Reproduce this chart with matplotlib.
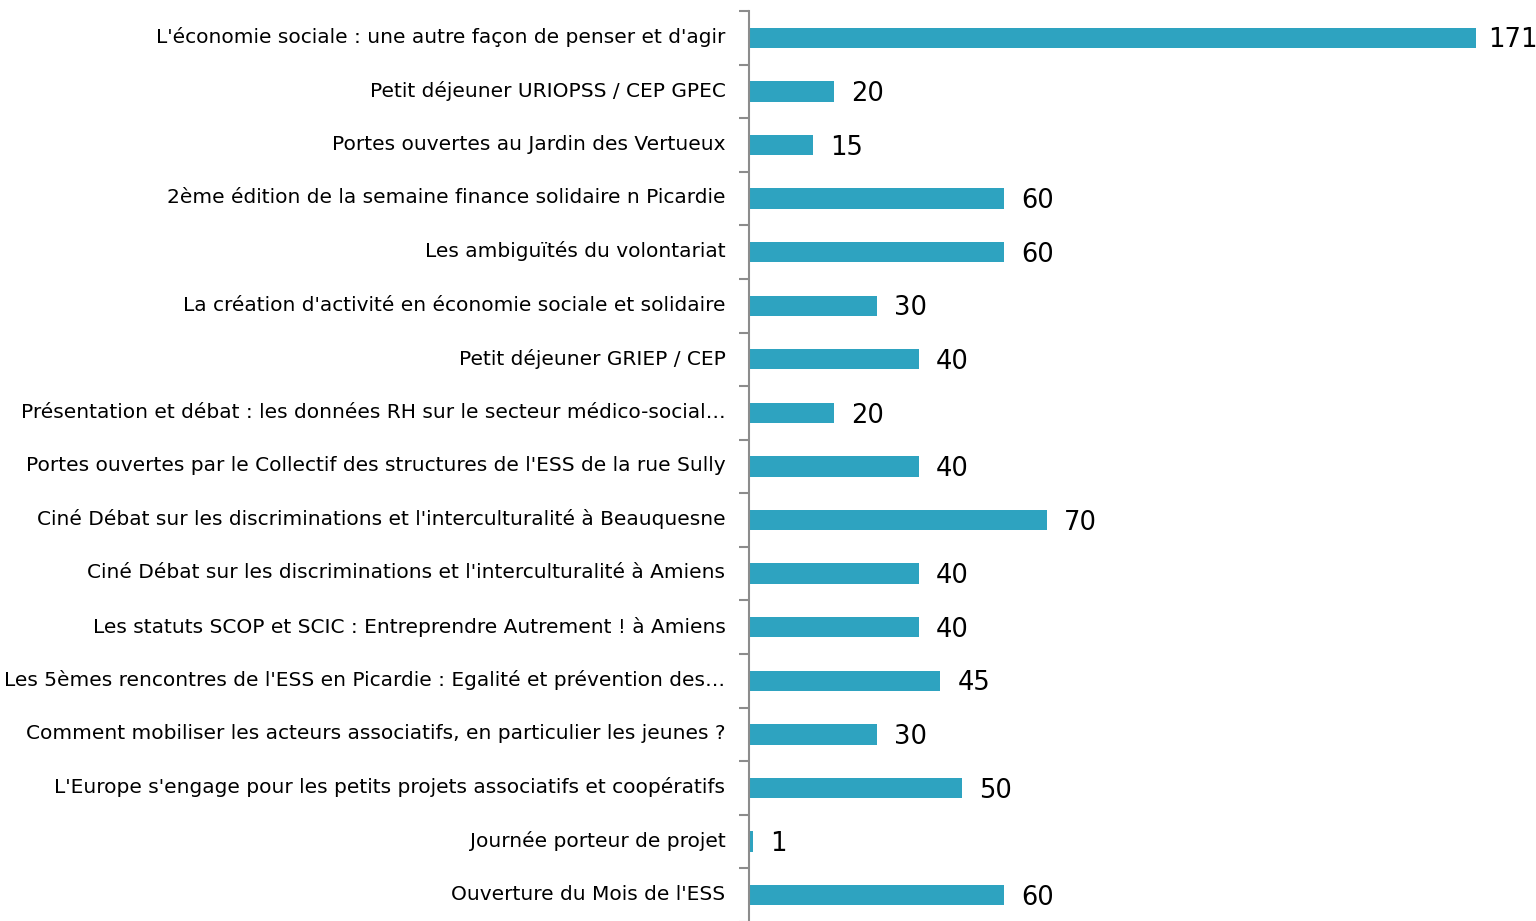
import matplotlib.pyplot as plt
import numpy as np

events = [
    "L'économie sociale : une autre façon de penser et d'agir",
    "Petit déjeuner URIOPSS / CEP GPEC",
    "Portes ouvertes au Jardin des Vertueux",
    "2ème édition de la semaine finance solidaire n Picardie",
    "Les ambiguïtés du volontariat",
    "La création d'activité en économie sociale et solidaire",
    "Petit déjeuner GRIEP / CEP",
    "Présentation et débat : les données RH sur le secteur médico-social\u2026",
    "Portes ouvertes par le Collectif des structures de l'ESS de la rue Sully",
    "Ciné Débat sur les discriminations et l'interculturalité à Beauquesne",
    "Ciné Débat sur les discriminations et l'interculturalité à Amiens",
    "Les statuts SCOP et SCIC : Entreprendre Autrement ! à Amiens",
    "Les 5èmes rencontres de l'ESS en Picardie : Egalité et prévention des\u2026",
    "Comment mobiliser les acteurs associatifs, en particulier les jeunes ?",
    "L'Europe s'engage pour les petits projets associatifs et coopératifs",
    "Journée porteur de projet",
    "Ouverture du Mois de l'ESS",
]
participants = [171, 20, 15, 60, 60, 30, 40, 20, 40, 70, 40, 40, 45, 30, 50, 1, 60]

bar_color = "#2EA3C0"

fig = plt.figure(figsize=(15.36, 9.21), dpi=100)
ax = fig.add_axes([749 / 1536, -0.001, 1 - 749 / 1536, 1 - 11 / 921 + 0.001])

pos = np.arange(len(events))
ax.barh(pos, participants, height=0.38, color=bar_color)

xmax = 185
for y, v in zip(pos, participants):
    # keep the longest label inside the figure
    ax.text(min(v + 4, xmax - 11.3), y + 0.05, str(v), va="center", ha="left",
            fontsize=18.5, color="black")

ax.set_ylim(len(events) - 0.5, -0.5)
ax.set_xlim(0, xmax)

# ticks between categories, labels at centers
ax.set_yticks(np.arange(len(events) + 1) - 0.5)
ax.set_yticklabels([])
ax.tick_params(axis="y", which="major", length=7, width=1.5, color="#8c8c8c")
ax.set_yticks(pos - 0.05, minor=True)
ax.set_yticklabels(events, minor=True, fontsize=14.5)
ax.tick_params(axis="y", which="minor", length=0, pad=17)

ax.set_xticks([])
for s in ["top", "right", "bottom"]:
    ax.spines[s].set_visible(False)
ax.spines["left"].set_color("#8c8c8c")
ax.spines["left"].set_linewidth(1.5)

fig.savefig("out.png", dpi=100)
